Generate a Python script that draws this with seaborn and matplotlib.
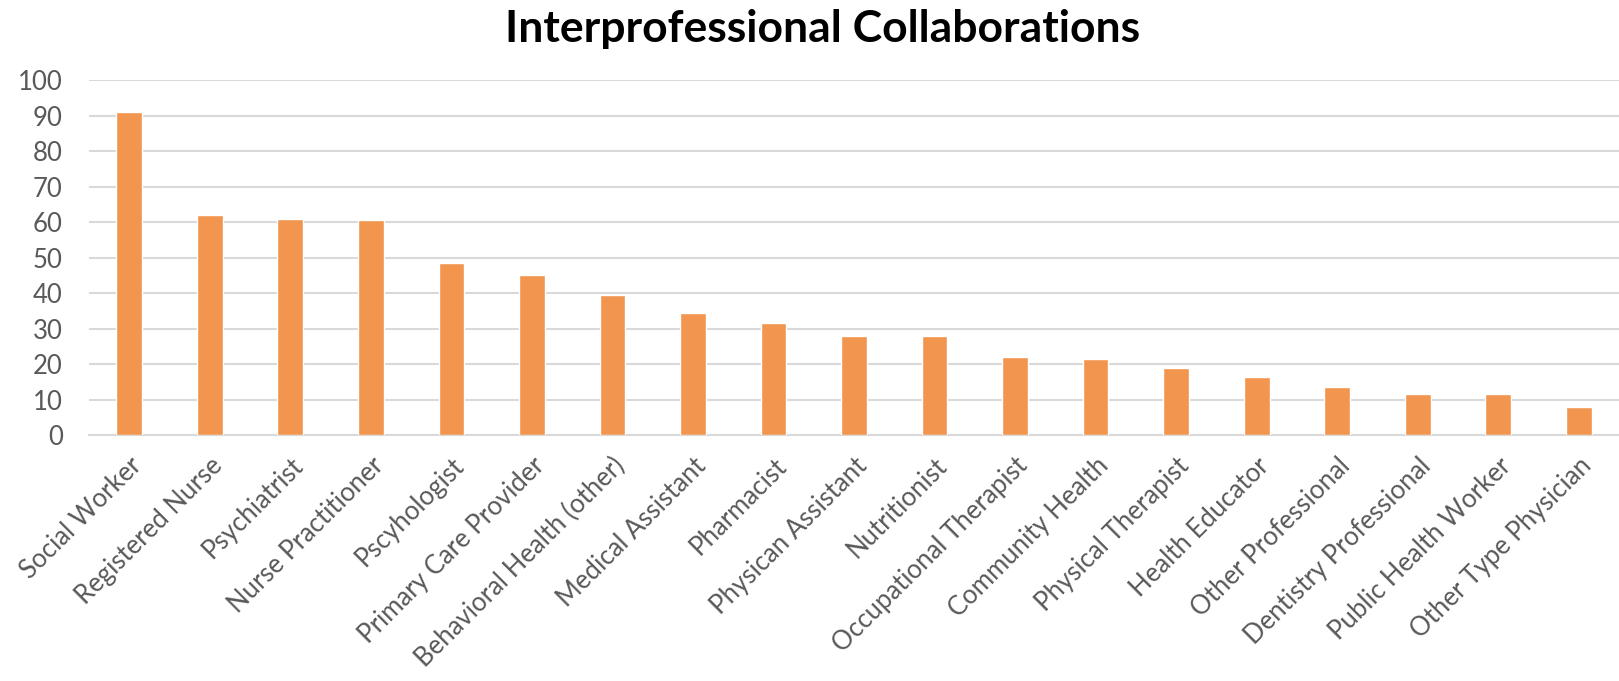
import matplotlib
matplotlib.use("Agg")
import matplotlib.pyplot as plt
import seaborn as sns
import pandas as pd

categories = [
    "Social Worker", "Registered Nurse", "Psychiatrist", "Nurse Practitioner",
    "Pscyhologist", "Primary Care Provider", "Behavioral Health (other)",
    "Medical Assistant", "Pharmacist", "Physican Assistant", "Nutritionist",
    "Occupational Therapist", "Community Health", "Physical Therapist",
    "Health Educator", "Other Professional", "Dentistry Professional",
    "Public Health Worker", "Other Type Physician",
]
values = [91, 62, 61, 60.5, 48.5, 45, 39.5, 34.5, 31.5, 28, 28, 22, 21.5,
          19, 16.5, 13.5, 11.5, 11.5, 8]
y_ticks = [0, 10, 20, 30, 40, 50, 60, 70, 80, 90, 100]

df = pd.DataFrame({"role": categories, "count": values})

sns.set_theme(style="white")
plt.rcParams["font.family"] = ["Lato", "DejaVu Sans"]

fig = plt.figure(figsize=(16.19, 6.81), dpi=100)
ax = fig.add_axes([0.055, 0.361, 0.945, 0.5215])

sns.barplot(data=df, x="role", y="count", color="#F2954E", saturation=1,
            width=0.32, ax=ax, zorder=3)

ax.set_ylim(0, 100)
ax.set_xlim(-0.5, len(categories) - 0.5)
ax.set_yticks(y_ticks)
ax.yaxis.grid(True, color="#D9D9D9", linewidth=1.5, zorder=0)
ax.set_axisbelow(True)
for side in ["top", "right", "left"]:
    ax.spines[side].set_visible(False)
ax.spines["bottom"].set_color("#D9D9D9")
ax.spines["bottom"].set_linewidth(1.5)
ax.set_xlabel("")
ax.set_ylabel("")
ax.tick_params(axis="both", length=0, colors="#595959", labelsize=18.5)
ax.tick_params(axis="y", pad=19)
ax.tick_params(axis="x", pad=13)
for lbl in ax.get_xticklabels():
    lbl.set_rotation(45)
    lbl.set_ha("right")
    lbl.set_va("top")
    lbl.set_rotation_mode("anchor")

fig.text(0.508, 0.957, "Interprofessional Collaborations", ha="center",
         va="center", fontsize=32, fontweight="bold", color="black")

fig.savefig("out.png", dpi=100, facecolor="white")
